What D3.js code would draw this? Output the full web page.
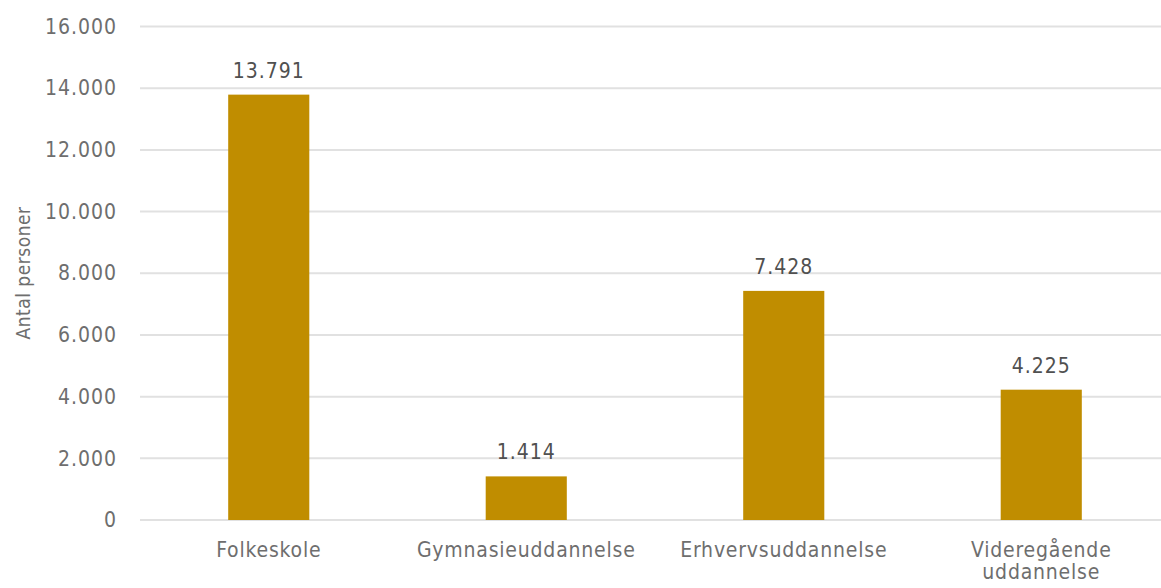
<!DOCTYPE html>
<html><head><meta charset="utf-8">
<script src="https://cdn.jsdelivr.net/npm/d3@7"></script>
<style>
body{margin:0;background:#fff;}
text{font-family:"DejaVu Sans Condensed","DejaVu Sans",sans-serif;}
</style></head>
<body><svg id="c" width="1161" height="588"></svg>
<script>
const categories = ["Folkeskole","Gymnasieuddannelse","Erhvervsuddannelse","Videregående uddannelse"];
const categoryLines = [["Folkeskole"],["Gymnasieuddannelse"],["Erhvervsuddannelse"],["Videregående","uddannelse"]];
const values = [13791, 1414, 7428, 4225];
const valueLabels = ["13.791","1.414","7.428","4.225"];
const yTicks = [0,2000,4000,6000,8000,10000,12000,14000,16000];
const yTickLabels = ["0","2.000","4.000","6.000","8.000","10.000","12.000","14.000","16.000"];
const yTitle = "Antal personer";

const svg = d3.select("#c");
const mLeft = 140, mRight = 1170, mTop = 26.5, mBottom = 520;
const x = d3.scaleBand().domain(categories).range([mLeft, mRight]).paddingInner(0.685).paddingOuter(0.3425);
const y = d3.scaleLinear().domain([0,16000]).range([mBottom, mTop]);

// gridlines
svg.append("g").selectAll("line").data(yTicks).join("line")
  .attr("x1", mLeft).attr("x2", 1161)
  .attr("y1", d=>y(d)).attr("y2", d=>y(d))
  .attr("stroke", "#e1e1e1").attr("stroke-width", 2);

// y axis labels
const yAxis = d3.axisLeft(y).tickValues(yTicks).tickFormat((d,i)=>yTickLabels[i]).tickSize(0).tickPadding(0);
const yg = svg.append("g").attr("transform", `translate(117,0)`).call(yAxis);
yg.select(".domain").remove();
yg.selectAll("text").attr("font-size", 21).attr("letter-spacing", 1).attr("fill", "#6e6e6e")
  .attr("font-family", "DejaVu Sans Condensed");

// bars
svg.append("g").selectAll("rect").data(values).join("rect")
  .attr("x", (d,i)=>x(categories[i])).attr("width", x.bandwidth())
  .attr("y", d=>y(d)).attr("height", d=>mBottom - y(d))
  .attr("fill", "#c08d00");

// value labels
svg.append("g").selectAll("text").data(values).join("text")
  .attr("x", (d,i)=>x(categories[i]) + x.bandwidth()/2)
  .attr("y", d=>y(d) - 17)
  .attr("text-anchor", "middle").attr("font-size", 21).attr("letter-spacing", 1).attr("fill", "#505050")
  .text((d,i)=>valueLabels[i]);

// x labels
const xl = svg.append("g").selectAll("text").data(categories).join("text")
  .attr("x", d=>x(d) + x.bandwidth()/2)
  .attr("y", 557)
  .attr("text-anchor", "middle").attr("font-size", 21).attr("letter-spacing", 0.8).attr("fill", "#6e6e6e");
xl.each(function(d,i){
  const t = d3.select(this);
  categoryLines[i].forEach((ln,j)=>{
    t.append("tspan").attr("x", x(d) + x.bandwidth()/2).attr("dy", j===0?0:22).text(ln);
  });
});

// y title
svg.append("text").attr("transform", "translate(30,273) rotate(-90)")
  .attr("text-anchor", "middle").attr("font-size", 19).attr("letter-spacing", 0.5).attr("fill", "#6e6e6e").text(yTitle);
</script></body></html>
